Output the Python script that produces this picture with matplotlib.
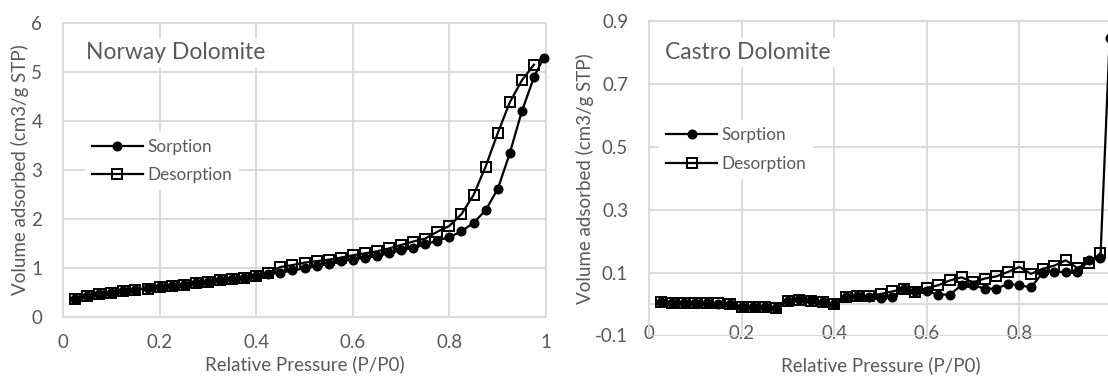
import numpy as np
import matplotlib
matplotlib.use("Agg")
import matplotlib.pyplot as plt

plt.rcParams['font.family'] = ['Lato', 'DejaVu Sans']

# ---------------- data ----------------
norway_sorp_x = [0.025, 0.05, 0.075, 0.1, 0.125, 0.15, 0.175, 0.2, 0.225, 0.25,
                 0.275, 0.3, 0.325, 0.35, 0.375, 0.4, 0.425, 0.45, 0.475, 0.5,
                 0.525, 0.55, 0.575, 0.6, 0.625, 0.65, 0.675, 0.7, 0.725, 0.75,
                 0.775, 0.8, 0.825, 0.85, 0.875, 0.9, 0.925, 0.95, 0.975, 0.995]
norway_sorp_y = [0.37, 0.42, 0.46, 0.50, 0.53, 0.56, 0.59, 0.61, 0.64, 0.66,
                 0.69, 0.72, 0.75, 0.78, 0.80, 0.84, 0.87, 0.90, 0.95, 0.99,
                 1.04, 1.09, 1.14, 1.17, 1.21, 1.24, 1.30, 1.36, 1.41, 1.48,
                 1.56, 1.63, 1.75, 1.92, 2.18, 2.61, 3.34, 4.20, 4.89, 5.29]
norway_desorp_x = [0.975, 0.95, 0.925, 0.9, 0.875, 0.85, 0.825, 0.8, 0.775, 0.75,
                   0.725, 0.7, 0.675, 0.65, 0.625, 0.6, 0.575, 0.55, 0.525, 0.5,
                   0.475, 0.45, 0.425, 0.4, 0.375, 0.35, 0.325, 0.3, 0.275, 0.25,
                   0.225, 0.2, 0.175, 0.15, 0.125, 0.1, 0.075, 0.05, 0.025]
norway_desorp_y = [5.15, 4.83, 4.38, 3.75, 3.07, 2.49, 2.10, 1.86, 1.74, 1.60,
                   1.54, 1.47, 1.40, 1.34, 1.30, 1.26, 1.21, 1.17, 1.14, 1.11,
                   1.06, 1.02, 0.90, 0.84, 0.80, 0.77, 0.75, 0.72, 0.69, 0.66,
                   0.64, 0.61, 0.58, 0.56, 0.53, 0.50, 0.46, 0.42, 0.37]

castro_sorp_x = norway_sorp_x
castro_sorp_y = [0.005, 0.003, 0.003, 0.003, 0.002, 0.000, 0.000, -0.008, -0.008, -0.010,
                 -0.012, 0.010, 0.015, 0.012, 0.008, 0.000, 0.022, 0.025, 0.022, 0.018,
                 0.022, 0.049, 0.040, 0.040, 0.030, 0.030, 0.060, 0.060, 0.049, 0.049,
                 0.064, 0.060, 0.053, 0.099, 0.102, 0.102, 0.102, 0.139, 0.147, 0.845]
castro_desorp_x = norway_desorp_x
castro_desorp_y = [0.161, 0.131, 0.115, 0.139, 0.122, 0.112, 0.096, 0.118, 0.102, 0.088,
                   0.081, 0.069, 0.085, 0.075, 0.060, 0.051, 0.038, 0.048, 0.040, 0.032,
                   0.025, 0.025, 0.022, 0.000, 0.008, 0.010, 0.013, 0.010, -0.012, -0.010,
                   -0.010, -0.010, 0.000, 0.002, 0.003, 0.003, 0.003, 0.003, 0.005]

panel_titles = ["Norway Dolomite", "Castro Dolomite"]
series_names = ["Sorption", "Desorption"]
x_label = "Relative Pressure (P/P0)"
y_label = "Volume adsorbed (cm3/g STP)"
xL_ticks = [0, 0.2, 0.4, 0.6, 0.8, 1]
xL_ticklabels = ['0', '0.2', '0.4', '0.6', '0.8', '1']
xR_ticks = [0, 0.2, 0.4, 0.6, 0.8, 1]
xR_ticklabels = ['0', '0.2', '0.4', '0.6', '0.8', '']   # "1" falls outside the cropped picture
yL_ticks = [0, 1, 2, 3, 4, 5, 6]
yL_ticklabels = ['0', '1', '2', '3', '4', '5', '6']
yR_ticks = [-0.1, 0.1, 0.3, 0.5, 0.7, 0.9]
yR_ticklabels = ['-0.1', '0.1', '0.3', '0.5', '0.7', '0.9']

# ---------------- style ----------------
W, H = 1108, 377
GRID = '#d9d9d9'
TXT = '#595959'
FS = 13.5

fig = plt.figure(figsize=(W / 100, H / 100), dpi=100)

def px_axes(l, r, t, b):
    return fig.add_axes([l / W, (H - b) / H, (r - l) / W, (b - t) / H])

axL = px_axes(63, 546, 23, 317)
axR = px_axes(649, 1112, 21, 335.5)

def style(ax):
    ax.set_axisbelow(True)
    ax.grid(True, color=GRID, linewidth=1.3)
    for s in ax.spines.values():
        s.set_color(GRID)
        s.set_linewidth(1.3)
    ax.tick_params(length=0, labelsize=FS, labelcolor=TXT)
    ax.set_xlabel(x_label, fontsize=FS, color=TXT)
    ax.set_ylabel(y_label, fontsize=FS, color=TXT)

def draw(ax, sx, sy, dx, dy):
    ax.plot(sx, sy, color='black', lw=1.6, marker='o', ms=6.2,
            mfc='black', mec='black', label=series_names[0], clip_on=False, zorder=3)
    ax.plot(dx, dy, color='black', lw=1.6, marker='s', ms=7.0,
            mfc='none', mec='black', mew=1.4, label=series_names[1], zorder=4)

def legend(ax, anchor):
    leg = ax.legend(loc='upper left', bbox_to_anchor=anchor, fontsize=12.3,
                    frameon=True, facecolor='white', edgecolor='none', framealpha=1,
                    handlelength=3.0, handletextpad=0.25, labelspacing=0.75,
                    borderpad=0.4, borderaxespad=0, labelcolor=TXT)
    leg.set_zorder(5)
    return leg

# ----- left panel -----
style(axL)
draw(axL, norway_sorp_x, norway_sorp_y, norway_desorp_x, norway_desorp_y)
axL.set_xlim(0, 1)
axL.set_ylim(0, 6)
axL.set_xticks(xL_ticks, xL_ticklabels)
axL.set_yticks(yL_ticks, yL_ticklabels)
axL.tick_params(axis='x', pad=12)
axL.tick_params(axis='y', pad=15)
axL.xaxis.set_label_coords(0.5, -0.13)
axL.yaxis.set_label_coords(-0.07, 0.5)
axL.text(0.047, 0.9, panel_titles[0], transform=axL.transAxes, fontsize=16.5,
         color=TXT, va='center', ha='left',
         bbox=dict(facecolor='white', edgecolor='none', pad=3), zorder=2)
legend(axL, (0.045, 0.63))

# ----- right panel -----
style(axR)
draw(axR, castro_sorp_x, castro_sorp_y, castro_desorp_x, castro_desorp_y)
axR.set_xlim(0, 1)
axR.set_ylim(-0.1, 0.9)
axR.set_xticks(xR_ticks, xR_ticklabels)
axR.set_yticks(yR_ticks, yR_ticklabels)
axR.spines['bottom'].set_position(('data', 0))
axR.axhline(-0.1, color=GRID, lw=1.3, zorder=0)
axR.tick_params(axis='x', pad=15)
axR.tick_params(axis='y', pad=15)
axR.xaxis.set_label_coords(0.5, -0.066)
axR.yaxis.set_label_coords(-0.118, 0.5)
axR.text(0.035, 0.9, panel_titles[1], transform=axR.transAxes, fontsize=16.5,
         color=TXT, va='center', ha='left',
         bbox=dict(facecolor='white', edgecolor='none', pad=3), zorder=2)
legend(axR, (0.022, 0.685))

fig.savefig('out.png', dpi=100)
